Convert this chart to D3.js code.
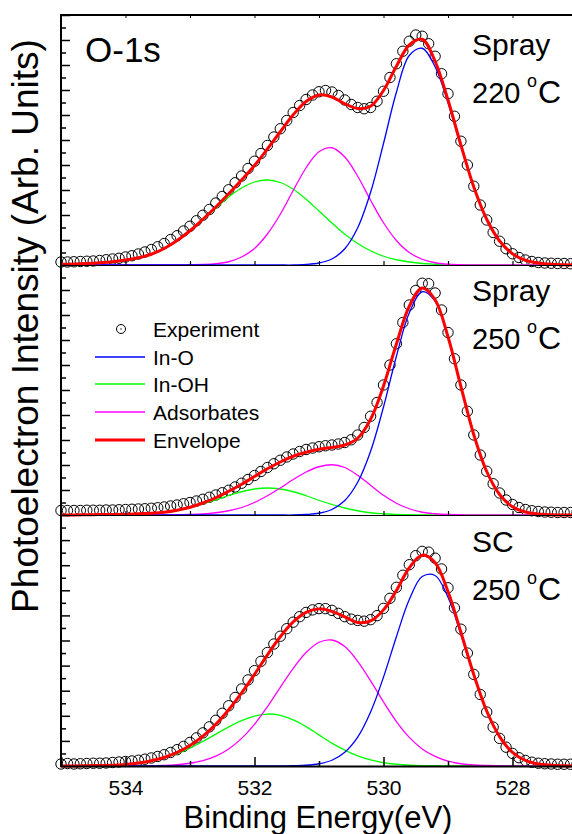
<!DOCTYPE html>
<html>
<head>
<meta charset="utf-8">
<script src="https://cdnjs.cloudflare.com/ajax/libs/d3/7.8.5/d3.min.js"></script>
<style>
  html, body { margin: 0; padding: 0; background: #fff; }
  svg { display: block; font-family: "Liberation Sans", Arial, sans-serif; }
</style>
</head>
<body>
<div id="chart"></div>
<script>
// binding energy grid of the fitted curves (eV)
const energyFit = [535.0, 534.8, 534.6, 534.4, 534.2, 534.0, 533.8, 533.6, 533.4, 533.2,
  533.0, 532.8, 532.6, 532.4, 532.2, 532.0, 531.8, 531.6, 531.4, 531.2,
  531.0, 530.8, 530.6, 530.4, 530.2, 530.0, 529.8, 529.6, 529.4, 529.2,
  529.0, 528.8, 528.6, 528.4, 528.2, 528.0, 527.8, 527.6, 527.4, 527.2, 527.0]

// binding energy grid of the measured points (eV)
const energyExp = [535.0, 534.9, 534.8, 534.7, 534.6, 534.5, 534.4, 534.3, 534.2, 534.1,
  534.0, 533.9, 533.8, 533.7, 533.6, 533.5, 533.4, 533.3, 533.2, 533.1,
  533.0, 532.9, 532.8, 532.7, 532.6, 532.5, 532.4, 532.3, 532.2, 532.1,
  532.0, 531.9, 531.8, 531.7, 531.6, 531.5, 531.4, 531.3, 531.2, 531.1,
  531.0, 530.9, 530.8, 530.7, 530.6, 530.5, 530.4, 530.3, 530.2, 530.1,
  530.0, 529.9, 529.8, 529.7, 529.6, 529.5, 529.4, 529.3, 529.2, 529.1,
  529.0, 528.9, 528.8, 528.7, 528.6, 528.5, 528.4, 528.3, 528.2, 528.1,
  528.0, 527.9, 527.8, 527.7, 527.6, 527.5, 527.4, 527.3, 527.2, 527.1, 527.0]

// Spray 220 C
const expSpray220 = [0.12,0.12,0.13,0.14,0.15,0.16,0.18,0.21,0.24,0.27,
  0.32,0.37,0.44,0.52,0.62,0.73,0.86,1.02,1.17,1.36,
  1.55,1.77,1.99,2.22,2.48,2.74,3.01,3.29,3.56,3.86,
  4.15,4.46,4.78,5.12,5.45,5.78,6.10,6.38,6.62,6.80,
  6.93,6.98,6.92,6.78,6.60,6.42,6.30,6.25,6.30,6.55,
  6.95,7.50,8.05,8.55,8.95,9.20,9.15,8.85,8.35,7.65,
  6.85,5.95,4.95,4.00,3.15,2.40,1.80,1.30,0.95,0.65,
  0.45,0.30,0.20,0.14,0.10,0.08,0.07,0.06,0.06,0.05,0.05]
const inOSpray220 = [0,0,0,0,0,0,0,0,0,0,0,0,0,0,0,0,0,0,0,
  0.02,0.08,0.24,0.65,1.49,2.91,4.86,6.91,8.38,8.67,7.93,6.49,4.76,3.12,1.83,0.96,0.45,0.19,0.07,0.02,0.01,0]
const inOHSpray220 = [0.03,0.04,0.06,0.09,0.13,0.20,0.29,0.43,0.66,0.98,1.36,1.81,2.27,2.72,3.08,3.32,3.40,3.30,3.03,2.63,
  2.16,1.68,1.23,0.86,0.57,0.35,0.21,0.12,0.06,0.03,0.01,0,0,0,0,0,0,0,0,0,0]
const adsSpray220 = [0,0,0,0,0,0,0,0,0,0,
  0.01,0.02,0.05,0.13,0.32,0.66,1.24,2.03,2.98,3.89,4.53,4.69,4.32,3.55,2.59,1.69,0.98,0.50,0.23,0.09,0.03,0.01,
  0,0,0,0,0,0,0,0,0]
const envSpray220 = [0.03,0.04,0.06,0.09,0.13,0.20,0.29,0.43,0.66,0.98,
  1.37,1.83,2.32,2.85,3.40,3.98,4.64,5.33,6.01,6.54,
  6.80,6.72,6.45,6.26,6.35,6.98,7.95,8.80,9.03,8.15,
  6.60,4.80,3.12,1.83,0.96,0.45,0.19,0.08,0.03,0.01,0]

// Spray 250 C
const expSpray250 = [0.18,0.18,0.18,0.18,0.19,0.19,0.19,0.20,0.20,0.21,
  0.22,0.23,0.24,0.25,0.27,0.29,0.32,0.36,0.40,0.45,
  0.50,0.56,0.63,0.71,0.80,0.89,0.99,1.12,1.27,1.42,
  1.58,1.74,1.90,2.05,2.19,2.32,2.44,2.54,2.62,2.68,
  2.73,2.77,2.80,2.84,2.90,3.01,3.20,3.50,3.95,4.50,
  5.20,6.00,6.85,7.70,8.40,8.98,9.27,9.25,8.88,8.20,
  7.30,6.25,5.20,4.15,3.20,2.40,1.75,1.25,0.88,0.60,
  0.42,0.30,0.22,0.17,0.14,0.12,0.11,0.10,0.10,0.10,0.10]
const inOSpray250 = [0,0,0,0,0,0,0,0,0,0,0,0,0,0,0,0,0,0,0,
  0.02,0.07,0.22,0.58,1.31,2.55,4.32,6.35,8.09,8.93,8.56,7.11,5.13,3.21,1.74,0.82,0.33,0.12,0.04,0.01,0,0]
const inOHSpray250 = [0,0,0.01,0.015,0.02,0.03,0.045,0.07,0.11,0.18,0.29,0.44,0.60,0.78,0.93,1.04,1.08,1.04,0.93,0.77,
  0.59,0.42,0.28,0.17,0.09,0.05,0.02,0.01,0,0,0,0,0,0,0,0,0,0,0,0,0]
const adsSpray250 = [0,0,0,0,0,0,0,0,
  0,0.01,0.02,0.04,0.09,0.17,0.30,0.50,0.77,1.08,1.42,1.72,1.93,2.01,1.90,1.59,1.19,0.79,0.47,0.25,0.11,0.05,0.02,0.01,
  0,0,0,0,0,0,0,0,0]
const envSpray250 = [0,0,0.01,0.02,0.02,0.03,0.05,0.07,0.11,0.19,
  0.31,0.48,0.69,0.95,1.23,1.54,1.85,2.12,2.35,2.51,
  2.63,2.70,2.80,3.07,3.83,5.16,6.84,8.35,9.08,8.61,
  7.13,5.14,3.21,1.74,0.82,0.33,0.12,0.04,0.01,0,0]

// SC 250 C
const expSC250 = [0.08,0.10,0.08,0.09,0.10,0.11,0.11,0.12,0.14,0.16,
  0.18,0.20,0.23,0.27,0.32,0.38,0.45,0.54,0.65,0.78,
  0.94,1.12,1.32,1.56,1.82,2.10,2.40,2.73,3.07,3.43,
  3.80,4.17,4.52,4.86,5.17,5.47,5.73,5.95,6.12,6.22,
  6.27,6.27,6.20,6.08,5.95,5.85,5.80,5.77,5.83,5.99,
  6.28,6.68,7.12,7.60,8.02,8.38,8.55,8.52,8.28,7.85,
  7.10,6.30,5.45,4.50,3.65,2.85,2.15,1.55,1.10,0.75,
  0.50,0.33,0.22,0.15,0.11,0.09,0.08,0.07,0.07,0.07,0.07]
const inOSC250 = [0,0,0,0,0,0,0,0,0,0,0,0,0,0,0,0,0,0,
  0.01,0.03,0.09,0.23,0.55,1.15,2.15,3.54,5.15,6.63,7.55,7.59,6.72,5.24,3.60,2.17,1.16,0.54,0.22,0.08,0.03,0.01,0]
const inOHSC250 = [0,0,0.01,0.02,0.03,0.06,0.12,0.20,0.32,0.49,0.71,0.98,1.27,1.56,1.81,1.99,2.07,2.02,1.84,1.57,
  1.24,0.91,0.63,0.40,0.24,0.13,0.07,0.03,0.01,0.01,0,0,0,0,0,0,0,0,0,0,0]
const adsSC250 = [0,0,0,0,0,0,0,
  0.01,0.02,0.05,0.11,0.21,0.39,0.68,1.10,1.66,2.36,3.13,3.89,4.52,4.93,5.02,4.76,4.17,3.39,2.55,1.77,
  1.14,0.68,0.38,0.19,0.09,0.04,0.02,0.01,0,
  0,0,0,0,0]
const envSC250 = [0,0,0.01,0.02,0.03,0.06,0.12,0.21,0.34,0.54,
  0.82,1.19,1.66,2.24,2.91,3.65,4.43,5.15,5.74,6.12,
  6.26,6.16,5.94,5.72,5.78,6.22,6.99,7.90,8.40,8.10,
  6.95,5.33,3.64,2.19,1.17,0.54,0.22,0.08,0.03,0.01,0]

const xMajor = [534, 532, 530, 528]
const xMinor = [533, 531, 529]
const legendLabels = ["Experiment", "In-O", "In-OH", "Adsorbates", "Envelope"]

const width = 572
const height = 834

var svg = d3.select("#chart").append("svg")
  .attr("width", width)
  .attr("height", height)

svg.append("rect").attr("width", width).attr("height", height).attr("fill", "#fff")

const x = d3.scaleLinear().domain([535, 527]).range([61, 577])

const panelTop = [15, 265, 515]
const panelBottom = [265, 515, 766]

const panels = [
  {name: "Spray", temp: "220", exp: expSpray220, inO: inOSpray220, inOH: inOHSpray220, ads: adsSpray220, env: envSpray220, ly: 55},
  {name: "Spray", temp: "250", exp: expSpray250, inO: inOSpray250, inOH: inOHSpray250, ads: adsSpray250, env: envSpray250, ly: 301},
  {name: "SC", temp: "250", exp: expSC250, inO: inOSC250, inOH: inOHSC250, ads: adsSC250, env: envSC250, ly: 552}
]

const colors = {inO: "#0000ff", inOH: "#00ff00", ads: "#ff00ff", env: "#ff0000"}

panels.forEach(function (p, i) {
  const y = d3.scaleLinear().domain([0, 10]).range([panelBottom[i], panelTop[i]])
  const g = svg.append("g")

  // thin baseline of each upper panel, with small ticks pointing up
  if (i < 2) {
    const b = svg.append("g").attr("transform", "translate(0," + panelBottom[i] + ")")
      .call(d3.axisTop(x).tickValues(xMajor.concat(xMinor)).tickSize(4).tickFormat(""))
    b.select(".domain").attr("stroke-width", 1)
    b.selectAll(".tick line").attr("stroke-width", 1.2)
  }

  // y ticks (no labels)
  const ya = svg.append("g").attr("transform", "translate(61,0)")
    .call(d3.axisRight(y).tickValues(d3.range(1, 11)).tickSize(9).tickFormat(""))
  ya.select(".domain").remove()
  ya.selectAll(".tick line").attr("stroke-width", 1.5)
  const ym = svg.append("g").attr("transform", "translate(61,0)")
    .call(d3.axisRight(y).tickValues(d3.range(0.5, 10, 1)).tickSize(5).tickFormat(""))
  ym.select(".domain").remove()
  ym.selectAll(".tick line").attr("stroke-width", 1.5)

  // experiment
  g.append("g").selectAll("circle")
    .data(d3.zip(energyExp, p.exp))
    .join("circle")
    .attr("cx", d => x(d[0]))
    .attr("cy", d => y(d[1]))
    .attr("r", 5.2)
    .attr("fill", "none")
    .attr("stroke", "#000")
    .attr("stroke-width", 1)

  const line = d3.line()
    .x(d => x(d[0]))
    .y(d => y(Math.max(0, d[1])))
    .curve(d3.curveCatmullRom.alpha(0.5))

  ;["inOH", "ads", "inO"].forEach(function (k) {
    g.append("path")
      .datum(d3.zip(energyFit, p[k]))
      .attr("d", line)
      .attr("fill", "none")
      .attr("stroke", colors[k])
      .attr("stroke-width", 1.3)
  })
  g.append("path")
    .datum(d3.zip(energyFit, p.env))
    .attr("d", line)
    .attr("fill", "none")
    .attr("stroke", colors.env)
    .attr("stroke-width", 3)

  // sample label
  svg.append("text").attr("x", 472).attr("y", p.ly)
    .attr("font-size", 30).text(p.name)
  svg.append("text").attr("x", 472).attr("y", p.ly + 48)
    .attr("font-size", 29).text(p.temp)
  svg.append("text").attr("x", 527).attr("y", p.ly + 32)
    .attr("font-size", 18).text("o")
  svg.append("text").attr("x", 538).attr("y", p.ly + 48)
    .attr("font-size", 32).text("C")
})

// frame: left spine and top line
svg.append("line").attr("x1", 61).attr("x2", 61).attr("y1", 14).attr("y2", 767)
  .attr("stroke", "#000").attr("stroke-width", 2)
svg.append("line").attr("x1", 60).attr("x2", width).attr("y1", 15).attr("y2", 15)
  .attr("stroke", "#000").attr("stroke-width", 2)
const topAx = svg.append("g").attr("transform", "translate(0,15)")
  .call(d3.axisBottom(x).tickValues(xMajor.concat(xMinor)).tickSize(3).tickFormat(""))
topAx.select(".domain").remove()

// bottom axis
const bx = svg.append("g").attr("transform", "translate(0,766)")
  .call(d3.axisTop(x).tickValues(xMajor).tickSize(9).tickFormat(""))
bx.select(".domain").attr("stroke-width", 2)
bx.selectAll(".tick line").attr("stroke-width", 1.5)
const bxm = svg.append("g").attr("transform", "translate(0,766)")
  .call(d3.axisTop(x).tickValues(xMinor).tickSize(5).tickFormat(""))
bxm.select(".domain").remove()
bxm.selectAll(".tick line").attr("stroke-width", 1.5)
const bl = svg.append("g").attr("transform", "translate(0,766)")
  .call(d3.axisBottom(x).tickValues(xMajor).tickSize(0).tickPadding(14).tickFormat(d3.format("d")))
bl.select(".domain").remove()
bl.selectAll("text").attr("font-size", 21).attr("font-family", "Liberation Sans, Arial, sans-serif").attr("fill", "#000")

// titles
svg.append("text").attr("x", 85).attr("y", 62).attr("font-size", 35).text("O-1s")
svg.append("text").attr("x", 318).attr("y", 828).attr("text-anchor", "middle")
  .attr("font-size", 31).text("Binding Energy(eV)")
svg.append("text").attr("transform", "translate(38,326) rotate(-90)")
  .attr("text-anchor", "middle").attr("font-size", 37)
  .text("Photoelectron Intensity (Arb. Units)")

// legend
const leg = svg.append("g")
const legY = [329, 357, 384, 412, 440]
legendLabels.forEach(function (t, i) {
  if (i === 0) {
    leg.append("circle").attr("cx", 121).attr("cy", legY[i]).attr("r", 4.5)
      .attr("fill", "none").attr("stroke", "#000").attr("stroke-width", 1)
    leg.append("circle").attr("cx", 121).attr("cy", legY[i]).attr("r", 0.7).attr("fill", "#000")
  } else {
    const k = ["inO", "inOH", "ads", "env"][i - 1]
    leg.append("line").attr("x1", 95).attr("x2", 145).attr("y1", legY[i]).attr("y2", legY[i])
      .attr("stroke", colors[k]).attr("stroke-width", k === "env" ? 3 : 1.3)
  }
  leg.append("text").attr("x", 153).attr("y", legY[i] + 7.5).attr("font-size", 21).text(t)
})
</script>
</body>
</html>
